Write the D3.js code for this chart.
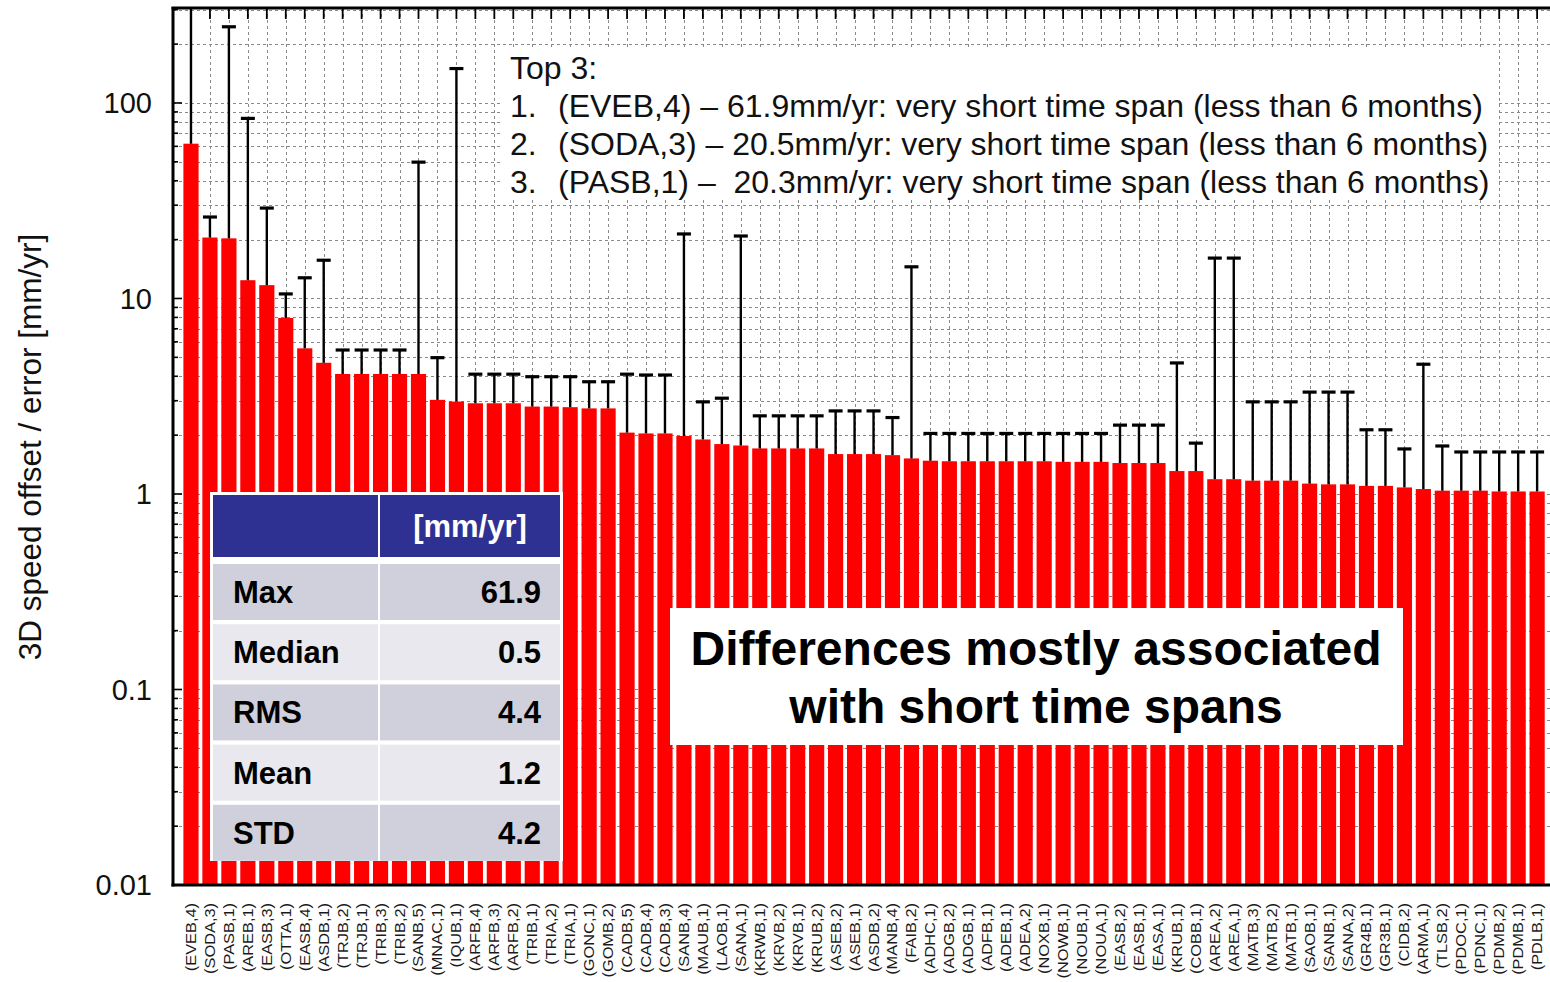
<!DOCTYPE html>
<html>
<head>
<meta charset="utf-8">
<script src="https://cdn.jsdelivr.net/npm/d3@7"></script>
<style>
  body { margin: 0; background: #fff; }
  svg { display: block; font-family: "Liberation Sans", Arial, sans-serif; }
</style>
</head>
<body>
<div id="chart"></div>
<script>
// station labels, sorted by offset
const labels = [
    '(EVEB,4)', '(SODA,3)', '(PASB,1)', '(AREB,1)', '(EASB,3)', '(OTTA,1)', '(EASB,4)', '(ASDB,1)',
    '(TRJB,2)', '(TRJB,1)', '(TRIB,3)', '(TRIB,2)', '(SANB,5)', '(MNAC,1)', '(IQUB,1)', '(ARFB,4)',
    '(ARFB,3)', '(ARFB,2)', '(TRIB,1)', '(TRIA,2)', '(TRIA,1)', '(GONC,1)', '(GOMB,2)', '(CADB,5)',
    '(CADB,4)', '(CADB,3)', '(SANB,4)', '(MAUB,1)', '(LAOB,1)', '(SANA,1)', '(KRWB,1)', '(KRVB,2)',
    '(KRVB,1)', '(KRUB,2)', '(ASEB,2)', '(ASEB,1)', '(ASDB,2)', '(MANB,4)', '(FAIB,2)', '(ADHC,1)',
    '(ADGB,2)', '(ADGB,1)', '(ADFB,1)', '(ADEB,1)', '(ADEA,2)', '(NOXB,1)', '(NOWB,1)', '(NOUB,1)',
    '(NOUA,1)', '(EASB,2)', '(EASB,1)', '(EASA,1)', '(KRUB,1)', '(COBB,1)', '(AREA,2)', '(AREA,1)',
    '(MATB,3)', '(MATB,2)', '(MATB,1)', '(SAOB,1)', '(SANB,1)', '(SANA,2)', '(GR4B,1)', '(GR3B,1)',
    '(CIDB,2)', '(ARMA,1)', '(TLSB,2)', '(PDOC,1)', '(PDNC,1)', '(PDMB,2)', '(PDMB,1)', '(PDLB,1)'
];

// 3D speed offset [mm/yr]
const offsets = [
    61.9, 20.5, 20.3, 12.4, 11.7, 7.95, 5.56, 4.69,
    4.11, 4.11, 4.11, 4.11, 4.11, 3.03, 2.97, 2.91,
    2.91, 2.91, 2.80, 2.80, 2.78, 2.74, 2.74, 2.06,
    2.04, 2.04, 1.98, 1.90, 1.80, 1.77, 1.71, 1.71,
    1.71, 1.71, 1.60, 1.60, 1.60, 1.58, 1.52, 1.48,
    1.47, 1.47, 1.47, 1.47, 1.47, 1.47, 1.46, 1.46,
    1.46, 1.44, 1.44, 1.44, 1.31, 1.31, 1.19, 1.19,
    1.17, 1.17, 1.17, 1.13, 1.12, 1.12, 1.10, 1.10,
    1.08, 1.06, 1.04, 1.04, 1.04, 1.03, 1.03, 1.03
];

// error [mm/yr], drawn on top of the offset
const errors = [
    2000, 5.6, 225, 71, 17.3, 2.6, 7.2, 11,
    1.34, 1.34, 1.34, 1.34, 45.7, 1.95, 147, 1.19,
    1.19, 1.19, 1.18, 1.18, 1.2, 1.01, 1.01, 2.04,
    2.02, 2.02, 19.4, 1.06, 1.29, 19.1, 0.80, 0.80,
    0.80, 0.80, 1.06, 1.06, 1.06, 0.88, 13.0, 0.56,
    0.57, 0.57, 0.57, 0.57, 0.57, 0.57, 0.58, 0.58,
    0.58, 0.81, 0.81, 0.81, 3.37, 0.51, 14.9, 14.9,
    1.79, 1.79, 1.79, 2.19, 2.20, 2.20, 1.03, 1.03,
    0.62, 3.55, 0.72, 0.60, 0.60, 0.61, 0.61, 0.61
];

const yTickValues = [0.01, 0.1, 1, 10, 100];
const yTickLabels = ['0.01', '0.1', '1', '10', '100'];

const statNames = ['Max', 'Median', 'RMS', 'Mean', 'STD'];
const statValues = ['61.9', '0.5', '4.4', '1.2', '4.2'];

const top3Title = 'Top 3:';
const top3Items = [
    '(EVEB,4) \u2013 61.9mm/yr: very short time span (less than 6 months)',
    '(SODA,3) \u2013 20.5mm/yr: very short time span (less than 6 months)',
    '(PASB,1) \u2013  20.3mm/yr: very short time span (less than 6 months)'
];
const noteLines = ['Differences mostly associated', 'with short time spans'];

const W = 1550, H = 982;
const plot = {left: 173, right: 1552, top: 8, bottom: 885};

const svg = d3.select('#chart').append('svg')
    .attr('width', W)
    .attr('height', H);

svg.append('rect').attr('width', W).attr('height', H).attr('fill', '#fff');

const data = labels.map((l, i) => ({label: l, value: offsets[i], err: errors[i]}));

const x = d3.scaleBand()
    .domain(labels)
    .range([181.5, 1546.6])
    .paddingInner(0.2)
    .paddingOuter(0.1);

const y = d3.scaleLog()
    .domain([0.01, 306])
    .range([plot.bottom, plot.top]);

const cx = d => x(d.label) + x.bandwidth() / 2;
const isMajor = t => Math.abs(Math.log10(t) - Math.round(Math.log10(t))) < 1e-6;

svg.append('defs').append('clipPath').attr('id', 'plotclip')
    .append('rect')
    .attr('x', plot.left).attr('y', plot.top)
    .attr('width', plot.right - plot.left).attr('height', plot.bottom - plot.top);

// grid
const grid = svg.append('g').attr('stroke', '#8a8a8a').attr('stroke-width', 1)
    .attr('stroke-dasharray', '3,3');
grid.selectAll('.hgrid')
    .data(y.ticks().filter(t => t > 0.01))
    .enter().append('line')
    .attr('x1', plot.left).attr('x2', plot.right)
    .attr('y1', d => Math.round(y(d)) + 0.5).attr('y2', d => Math.round(y(d)) + 0.5);
grid.selectAll('.vgrid')
    .data(data)
    .enter().append('line')
    .attr('x1', d => Math.round(cx(d)) + 0.5).attr('x2', d => Math.round(cx(d)) + 0.5)
    .attr('y1', plot.top).attr('y2', plot.bottom);

// bars
svg.append('g').selectAll('rect')
    .data(data)
    .enter().append('rect')
    .attr('x', d => x(d.label))
    .attr('width', x.bandwidth())
    .attr('y', d => y(d.value))
    .attr('height', d => plot.bottom - y(d.value))
    .attr('fill', '#ff0000');

// error bars
const eb = svg.append('g').attr('clip-path', 'url(#plotclip)').attr('stroke', '#000');
eb.selectAll('.stem')
    .data(data)
    .enter().append('line')
    .attr('x1', cx).attr('x2', cx)
    .attr('y1', d => y(d.value))
    .attr('y2', d => y(d.value + d.err))
    .attr('stroke-width', 2.4);
eb.selectAll('.cap')
    .data(data)
    .enter().append('line')
    .attr('x1', d => cx(d) - 7).attr('x2', d => cx(d) + 7)
    .attr('y1', d => y(d.value + d.err))
    .attr('y2', d => y(d.value + d.err))
    .attr('stroke-width', 3.2);

// frame and ticks
const axis = svg.append('g').attr('stroke', '#000');
axis.append('line').attr('x1', plot.left).attr('x2', plot.left)
    .attr('y1', plot.top - 1).attr('y2', plot.bottom + 1.5).attr('stroke-width', 3);
axis.append('line').attr('x1', plot.left - 1.5).attr('x2', plot.right)
    .attr('y1', plot.bottom).attr('y2', plot.bottom).attr('stroke-width', 3);
axis.append('line').attr('x1', plot.left - 1.5).attr('x2', plot.right)
    .attr('y1', plot.top).attr('y2', plot.top).attr('stroke-width', 3);
axis.selectAll('.ytick')
    .data(y.ticks())
    .enter().append('line')
    .attr('x1', plot.left).attr('x2', d => plot.left + (isMajor(d) ? 9 : 5))
    .attr('y1', d => y(d)).attr('y2', d => y(d))
    .attr('stroke-width', 1.6);
axis.selectAll('.xtick')
    .data(data)
    .enter().append('line')
    .attr('x1', cx).attr('x2', cx)
    .attr('y1', plot.top).attr('y2', plot.top + 11)
    .attr('stroke-width', 1.8);

// y tick labels
svg.append('g').selectAll('text')
    .data(yTickValues)
    .enter().append('text')
    .attr('x', 152)
    .attr('y', d => y(d))
    .attr('dy', '0.36em')
    .attr('text-anchor', 'end')
    .attr('font-size', 29)
    .attr('fill', '#111')
    .text((d, i) => yTickLabels[i]);

// y axis title
svg.append('text')
    .attr('transform', 'translate(41,447) rotate(-90)')
    .attr('text-anchor', 'middle')
    .attr('font-size', 31.5)
    .attr('fill', '#111')
    .text('3D speed offset / error [mm/yr]');

// x labels, rotated
svg.append('g').selectAll('text')
    .data(data)
    .enter().append('text')
    .attr('transform', d => `translate(${cx(d) + 5},903) rotate(-90) scale(1.17,1)`)
    .attr('text-anchor', 'end')
    .attr('font-size', 14)
    .attr('fill', '#1a1a1a')
    .text(d => d.label);

// top 3 note
const noteFont = 32;
svg.append('rect').attr('x', 500).attr('y', 48).attr('width', 997).attr('height', 152).attr('fill', '#fff');
svg.append('text').attr('x', 510).attr('y', 79).attr('font-size', noteFont).attr('fill', '#111').text(top3Title);
top3Items.forEach(function(t, i) {
    svg.append('text').attr('x', 510).attr('y', 117 + i * 38).attr('font-size', noteFont).attr('fill', '#111')
        .text((i + 1) + '.');
    svg.append('text').attr('x', 558).attr('y', 117 + i * 38).attr('font-size', noteFont).attr('fill', '#111')
        .style('white-space', 'pre')
        .text(t);
});

// stats table
const tbl = svg.append('g');
tbl.append('rect').attr('x', 210).attr('y', 492).attr('width', 353).attr('height', 369).attr('fill', '#fff');
tbl.append('rect').attr('x', 213).attr('y', 495).attr('width', 165).attr('height', 62).attr('fill', '#2e3192');
tbl.append('rect').attr('x', 380).attr('y', 495).attr('width', 180).attr('height', 62).attr('fill', '#2e3192');
tbl.append('text').attr('x', 470).attr('y', 537).attr('text-anchor', 'middle')
    .attr('font-size', 31).attr('font-weight', 'bold').attr('fill', '#fff').text('[mm/yr]');
statNames.forEach(function(name, i) {
    const top = 564 + i * 60.2;
    const fill = i % 2 === 0 ? '#cfd0dc' : '#e8e8ee';
    tbl.append('rect').attr('x', 213).attr('y', top).attr('width', 165).attr('height', 56).attr('fill', fill);
    tbl.append('rect').attr('x', 380).attr('y', top).attr('width', 180).attr('height', 56).attr('fill', fill);
    tbl.append('text').attr('x', 233).attr('y', top + 39)
        .attr('font-size', 31).attr('font-weight', 'bold').attr('fill', '#000').text(name);
    tbl.append('text').attr('x', 541).attr('y', top + 39).attr('text-anchor', 'end')
        .attr('font-size', 31).attr('font-weight', 'bold').attr('fill', '#000').text(statValues[i]);
});

// note box
svg.append('rect').attr('x', 670).attr('y', 608).attr('width', 733).attr('height', 137).attr('fill', '#fff');
noteLines.forEach(function(t, i) {
    svg.append('text').attr('x', 1036).attr('y', 665 + i * 58).attr('text-anchor', 'middle')
        .attr('font-size', 48).attr('font-weight', 'bold').attr('fill', '#000').text(t);
});
</script>
</body>
</html>
